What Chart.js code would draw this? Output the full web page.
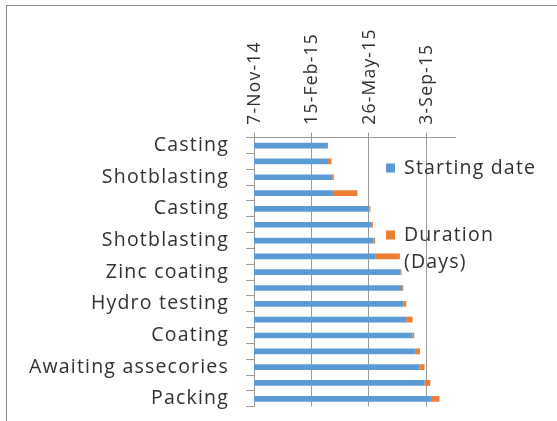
<!DOCTYPE html>
<html><head><meta charset="utf-8">
<script src="https://cdn.jsdelivr.net/npm/chart.js@4/dist/chart.umd.min.js"></script>
<style>
html,body{margin:0;padding:0;background:#fff;}
#wrap{position:relative;width:557px;height:421px;overflow:hidden;}
#frame{position:absolute;left:6px;top:5px;width:600px;height:500px;border-left:1px solid #8c8c8c;border-top:1px solid #8c8c8c;box-sizing:border-box;}
#holder{position:absolute;left:0;top:0;width:557px;height:421px;}
</style></head><body>
<div id="wrap"><div id="frame"></div><div id="holder"><canvas id="c"></canvas></div></div>
<script>
// ---- data ----
const categories = ['Casting','','Shotblasting','','Casting','','Shotblasting','','Zinc coating','','Hydro testing','','Coating','','Awaiting assecories','','Packing'];
// starting date as spreadsheet serial day numbers
const startSerial = [42077, 42079, 42086, 42089, 42151, 42154, 42158, 42162, 42205, 42208, 42210, 42215, 42226, 42230, 42238, 42247, 42258];
const durationDays = [2, 6, 3, 41, 2, 3, 3, 42, 2, 2, 5, 11, 3, 9, 9, 10, 15];
const seriesNames = ['Starting date', 'Duration (Days)'];
const dateTicks = [41950, 42050, 42150, 42250];
const axisMin = 41950, axisMax = 42300;

const MONTHS = ['Jan','Feb','Mar','Apr','May','Jun','Jul','Aug','Sep','Oct','Nov','Dec'];
function fmtSerial(s){
  const d = new Date(Math.round((s - 25569) * 86400000));
  return d.getUTCDate() + '-' + MONTHS[d.getUTCMonth()] + '-' + String(d.getUTCFullYear()).slice(2);
}

const FONT_FAMILY = '"Open Sans", "Noto Sans", sans-serif';
const TXT = '#303030';
const GRID = '#9a9a9a';
const SPACING = '1.2px';

const spacingPlugin = {
  id: 'spacing',
  beforeUpdate(ch){ ch.ctx.letterSpacing = SPACING; },
  beforeDraw(ch){ ch.ctx.letterSpacing = SPACING; }
};

const legendPlugin = {
  id: 'sideLegend',
  afterDraw(ch){
    const ctx = ch.ctx;
    ctx.save();
    ctx.letterSpacing = SPACING;
    ctx.font = '19.5px ' + FONT_FAMILY;
    ctx.textBaseline = 'middle';
    ctx.textAlign = 'left';
    const items = [
      {y: 168, lines: [seriesNames[0]]},
      {y: 235, lines: ['Duration', '(Days)']}
    ];
    items.forEach((it, i) => {
      ctx.fillStyle = ch.data.datasets[i].backgroundColor;
      ctx.fillRect(386, it.y - 4.5, 9, 9);
      ctx.fillStyle = TXT;
      it.lines.forEach((ln, j) => ctx.fillText(ln, 404, it.y + j * 27));
    });
    ctx.restore();
  }
};

new Chart(document.getElementById('c'), {
  type: 'bar',
  data: {
    labels: categories,
    datasets: [
      {label: seriesNames[0], data: startSerial, backgroundColor: '#5B9BD5', barPercentage: 0.36, categoryPercentage: 1},
      {label: seriesNames[1], data: durationDays, backgroundColor: '#ED7D31', barPercentage: 0.36, categoryPercentage: 1}
    ]
  },
  options: {
    indexAxis: 'y',
    responsive: true,
    maintainAspectRatio: false,
    devicePixelRatio: 1,
    animation: false,
    layout: {padding: {left: 0, right: 102, top: 0, bottom: 14.3}},
    plugins: {legend: {display: false}, tooltip: {enabled: false}, title: {display: false}},
    scales: {
      x: {
        type: 'linear',
        position: 'top',
        stacked: true,
        min: axisMin,
        max: axisMax,
        afterBuildTicks(s){ s.ticks = dateTicks.map(v => ({value: v})); },
        afterFit(s){ s.height = 137.7; s.paddingLeft = 0; s.paddingRight = 0; },
        ticks: {
          autoSkip: false,
          minRotation: 90,
          maxRotation: 90,
          padding: 8,
          labelOffset: 22,
          color: TXT,
          font: {family: FONT_FAMILY, size: 17.5},
          callback: v => fmtSerial(v)
        },
        grid: {color: GRID, tickLength: 5, drawTicks: true},
        border: {color: GRID}
      },
      y: {
        type: 'category',
        stacked: true,
        afterFit(s){ s.width = 254; s.paddingTop = 0; s.paddingBottom = 0; },
        ticks: {
          autoSkip: false,
          padding: 17,
          color: TXT,
          font: {family: FONT_FAMILY, size: 19.5}
        },
        grid: {drawOnChartArea: false, drawTicks: true, tickLength: 8, color: GRID},
        border: {color: GRID}
      }
    }
  },
  plugins: [spacingPlugin, legendPlugin]
});
</script>
</body></html>
